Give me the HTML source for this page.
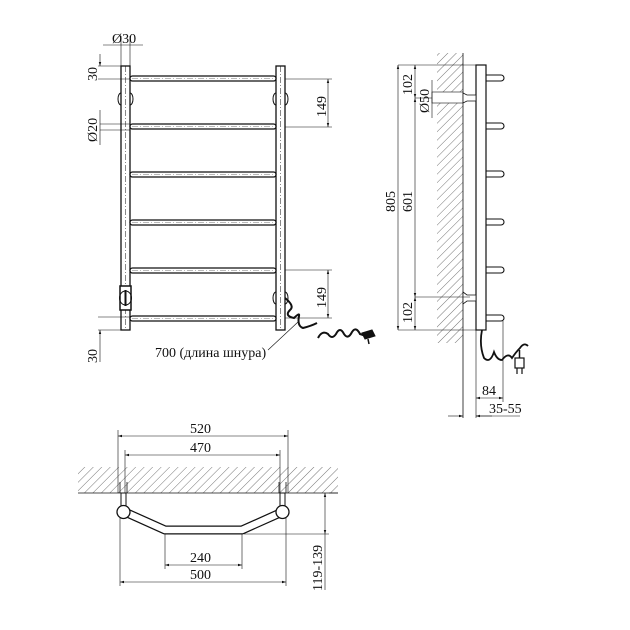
<!DOCTYPE html>
<html><head><meta charset="utf-8"><style>
html,body{margin:0;padding:0;background:#fff}
svg{display:block}
text{font-family:"Liberation Serif","DejaVu Serif",serif;font-size:14px;fill:#111}
</style></head><body>
<svg width="630" height="630" viewBox="0 0 630 630" xmlns="http://www.w3.org/2000/svg">
<defs>
<marker id="a" viewBox="0 0 10 10" refX="10" refY="5" markerWidth="7" markerHeight="7" orient="auto-start-reverse"><path d="M0,2 L10,5 L0,8 z" fill="#111"/></marker>
<pattern id="h" patternUnits="userSpaceOnUse" width="6" height="6" patternTransform="rotate(45)"><line x1="0" y1="0" x2="0" y2="6" stroke="#666" stroke-width="0.9"/></pattern>
</defs>
<g stroke="#111" stroke-width="1" fill="none">
<!-- FRONT VIEW -->
<rect x="121" y="66" width="9" height="264" fill="#fff" stroke-width="1.3"/>
<rect x="276" y="66" width="9" height="264" fill="#fff" stroke-width="1.3"/>
<line x1="125.5" y1="66" x2="125.5" y2="330" stroke-dasharray="6 2 1 2" stroke-width="0.5"/>
<line x1="280.5" y1="66" x2="280.5" y2="330" stroke-dasharray="6 2 1 2" stroke-width="0.5"/>
<g stroke-width="1.3" fill="#fff">
<rect x="130" y="76" width="146" height="5" rx="2.5"/>
<rect x="130" y="124" width="146" height="5" rx="2.5"/>
<rect x="130" y="172" width="146" height="5" rx="2.5"/>
<rect x="130" y="220" width="146" height="5" rx="2.5"/>
<rect x="130" y="268" width="146" height="5" rx="2.5"/>
<rect x="130" y="316" width="146" height="5" rx="2.5"/>
</g>
<g stroke-width="0.5" stroke-dasharray="6 2 1 2" stroke="#777">
<line x1="132" y1="78.5" x2="274" y2="78.5"/><line x1="132" y1="126.5" x2="274" y2="126.5"/><line x1="132" y1="174.5" x2="274" y2="174.5"/><line x1="132" y1="222.5" x2="274" y2="222.5"/><line x1="132" y1="270.5" x2="274" y2="270.5"/><line x1="132" y1="318.5" x2="274" y2="318.5"/>
</g>
<path d="M121,93 a3,6 0 0 0 0,12 M130,93 a3,6 0 0 1 0,12"/>
<path d="M276,93 a3,6 0 0 0 0,12 M285,93 a3,6 0 0 1 0,12"/>
<path d="M276,292 a3,6 0 0 0 0,12 M285,292 a3,6 0 0 1 0,12"/>
<rect x="120" y="286" width="11" height="24" fill="#fff" stroke-width="1.5"/>
<ellipse cx="125.5" cy="298" rx="6" ry="7"/>
<line x1="125.5" y1="290" x2="125.5" y2="306" stroke-width="2"/>
<!-- dims front -->
<line x1="121" y1="36" x2="121" y2="66" stroke-width="0.6"/><line x1="130" y1="36" x2="130" y2="66" stroke-width="0.6"/>
<line x1="103" y1="45" x2="143" y2="45" stroke-width="0.6"/>
<line x1="98" y1="66" x2="121" y2="66" stroke-width="0.6"/><line x1="98" y1="79" x2="130" y2="79" stroke-width="0.6"/>
<line x1="100" y1="54" x2="100" y2="66" stroke-width="0.6" marker-end="url(#a)"/>
<line x1="100" y1="124" x2="130" y2="124" stroke-width="0.6"/><line x1="100" y1="130" x2="130" y2="130" stroke-width="0.6"/>
<line x1="100" y1="110" x2="100" y2="145" stroke-width="0.6"/>
<line x1="98" y1="317" x2="130" y2="317" stroke-width="0.6"/><line x1="98" y1="330" x2="121" y2="330" stroke-width="0.6"/>
<line x1="100" y1="342" x2="100" y2="330" stroke-width="0.6" marker-end="url(#a)"/>
<line x1="100" y1="342" x2="100" y2="362" stroke-width="0.6"/>
<line x1="285" y1="79" x2="332" y2="79" stroke-width="0.6"/><line x1="285" y1="127" x2="332" y2="127" stroke-width="0.6"/>
<line x1="328" y1="79" x2="328" y2="127" stroke-width="0.6" marker-start="url(#a)" marker-end="url(#a)"/>
<line x1="285" y1="270" x2="332" y2="270" stroke-width="0.6"/><line x1="285" y1="318" x2="332" y2="318" stroke-width="0.6"/>
<line x1="328" y1="270" x2="328" y2="318" stroke-width="0.6" marker-start="url(#a)" marker-end="url(#a)"/>
<!-- cord -->
<path d="M285,298 q10,8 5,12 q-6,6 4,8 q6,-6 5,-2 q-2,10 4,12 q8,-2 14,-5" stroke-width="2"/>
<path d="M318,338 q4,-8 10,-4 q4,6 8,0 q4,-8 8,0 q4,6 8,-2 q4,-6 8,2 l6,2" stroke-width="2"/>
<path d="M362,333 l10,-3 l3,6 l-10,3 z" fill="#111"/>
<line x1="368" y1="339" x2="369" y2="344" stroke-width="1.5"/>
<line x1="268" y1="350" x2="298" y2="322" stroke-width="0.6"/>
<!-- SIDE VIEW -->
<rect x="437" y="53" width="26" height="290" fill="url(#h)" stroke="none"/>
<line x1="463" y1="53" x2="463" y2="418" stroke-width="0.8"/>
<line x1="476" y1="330" x2="476" y2="418" stroke-width="0.6"/>
<rect x="476" y="65" width="10" height="265" fill="#fff" stroke-width="1.2"/>
<g stroke-width="1.1">
<path d="M486,75 h15 a3,3 0 0 1 0,6 h-15"/>
<path d="M486,123 h15 a3,3 0 0 1 0,6 h-15"/>
<path d="M486,171 h15 a3,3 0 0 1 0,6 h-15"/>
<path d="M486,219 h15 a3,3 0 0 1 0,6 h-15"/>
<path d="M486,267 h15 a3,3 0 0 1 0,6 h-15"/>
<path d="M486,315 h15 a3,3 0 0 1 0,6 h-15"/>
</g>
<rect x="432" y="92" width="31" height="11" fill="#fff" stroke-width="0.6"/>
<path d="M463,93 l4,2 h9 v6 h-9 l-4,2 z" stroke-width="0.8" fill="#fff"/>
<path d="M463,292 l4,3 h9 v6 h-9 l-4,3 z" stroke-width="0.8" fill="#fff"/>
<line x1="398" y1="65" x2="476" y2="65" stroke-width="0.6"/>
<line x1="398" y1="330" x2="476" y2="330" stroke-width="0.6"/>
<line x1="415" y1="98" x2="432" y2="98" stroke-width="0.6"/>
<line x1="415" y1="297" x2="470" y2="297" stroke-width="0.6"/>
<line x1="398" y1="65" x2="398" y2="330" stroke-width="0.6" marker-start="url(#a)" marker-end="url(#a)"/>
<line x1="415" y1="65" x2="415" y2="98" stroke-width="0.6" marker-start="url(#a)" marker-end="url(#a)"/>
<line x1="415" y1="98" x2="415" y2="297" stroke-width="0.6" marker-start="url(#a)" marker-end="url(#a)"/>
<line x1="415" y1="297" x2="415" y2="330" stroke-width="0.6" marker-start="url(#a)" marker-end="url(#a)"/>
<line x1="432" y1="80" x2="432" y2="118" stroke-width="0.6"/>
<line x1="503" y1="321" x2="503" y2="402" stroke-width="0.6"/>
<line x1="476" y1="398" x2="503" y2="398" stroke-width="0.6" marker-start="url(#a)" marker-end="url(#a)"/>
<line x1="448" y1="416" x2="463" y2="416" stroke-width="0.6" marker-end="url(#a)"/>
<line x1="492" y1="416" x2="476" y2="416" stroke-width="0.6" marker-end="url(#a)"/>
<line x1="476" y1="416" x2="520" y2="416" stroke-width="0.6"/>
<path d="M482,330 q-3,15 2,28 q6,6 10,-6 q3,8 8,8 q6,-8 10,-2 q4,-6 8,-10 q4,-6 8,-2" stroke-width="1.8"/>
<rect x="515" y="358" width="9" height="10" fill="#fff" stroke-width="1.2"/>
<line x1="517" y1="368" x2="517" y2="374" stroke-width="1.2"/><line x1="522" y1="368" x2="522" y2="374" stroke-width="1.2"/>
<line x1="519.5" y1="358" x2="519.5" y2="350" stroke-width="1.5"/>
<!-- TOP VIEW -->
<rect x="78" y="467" width="260" height="26" fill="url(#h)" stroke="none"/>
<line x1="78" y1="493" x2="338" y2="493" stroke-width="0.8"/>
<line x1="118" y1="430" x2="118" y2="493" stroke-width="0.6"/>
<line x1="288" y1="430" x2="288" y2="493" stroke-width="0.6"/>
<line x1="118" y1="436" x2="288" y2="436" stroke-width="0.6" marker-start="url(#a)" marker-end="url(#a)"/>
<line x1="125" y1="450" x2="125" y2="493" stroke-width="0.6"/>
<line x1="280" y1="450" x2="280" y2="493" stroke-width="0.6"/>
<line x1="125" y1="455" x2="280" y2="455" stroke-width="0.6" marker-start="url(#a)" marker-end="url(#a)"/>
<path d="M120,482 v11 M127,482 v11 M279,482 v11 M286,482 v11" stroke-width="0.8"/>
<rect x="121" y="493" width="5" height="13" fill="#fff" stroke-width="1"/>
<rect x="280" y="493" width="5" height="13" fill="#fff" stroke-width="1"/>
<path d="M127,513 L165,530 H242 L280,513" stroke-width="9" stroke="#111" stroke-linejoin="round"/>
<path d="M127,513 L165,530 H242 L280,513" stroke-width="6.5" stroke="#fff" stroke-linejoin="round"/>
<circle cx="123.5" cy="512" r="6.5" fill="#fff" stroke-width="1.3"/>
<circle cx="282.5" cy="512" r="6.5" fill="#fff" stroke-width="1.3"/>
<line x1="165" y1="534" x2="165" y2="569" stroke-width="0.6"/>
<line x1="242" y1="534" x2="242" y2="569" stroke-width="0.6"/>
<line x1="165" y1="565" x2="242" y2="565" stroke-width="0.6" marker-start="url(#a)" marker-end="url(#a)"/>
<line x1="120" y1="518" x2="120" y2="586" stroke-width="0.6"/>
<line x1="286" y1="518" x2="286" y2="586" stroke-width="0.6"/>
<line x1="120" y1="582" x2="286" y2="582" stroke-width="0.6" marker-start="url(#a)" marker-end="url(#a)"/>
<line x1="338" y1="493" x2="329" y2="493" stroke-width="0.6"/>
<line x1="244" y1="534" x2="329" y2="534" stroke-width="0.6"/>
<line x1="325" y1="493" x2="325" y2="534" stroke-width="0.6" marker-start="url(#a)" marker-end="url(#a)"/>
<line x1="325" y1="534" x2="325" y2="590" stroke-width="0.6"/>
</g>
<!-- TEXT -->
<text x="112" y="43">Ø30</text>
<text transform="translate(97,81) rotate(-90)">30</text>
<text transform="translate(97,142) rotate(-90)">Ø20</text>
<text transform="translate(97,363) rotate(-90)">30</text>
<text transform="translate(326,117) rotate(-90)">149</text>
<text transform="translate(326,308) rotate(-90)">149</text>
<text x="155" y="357">700 (длина шнура)</text>
<text transform="translate(412,95) rotate(-90)">102</text>
<text transform="translate(429,113) rotate(-90)">Ø50</text>
<text transform="translate(395,212) rotate(-90)">805</text>
<text transform="translate(412,212) rotate(-90)">601</text>
<text transform="translate(412,323) rotate(-90)">102</text>
<text x="482" y="395">84</text>
<text x="489" y="413">35-55</text>
<text x="190" y="433">520</text>
<text x="190" y="452">470</text>
<text x="190" y="562">240</text>
<text x="190" y="579">500</text>
<text transform="translate(322,591) rotate(-90)">119-139</text>
</svg>
</body></html>
